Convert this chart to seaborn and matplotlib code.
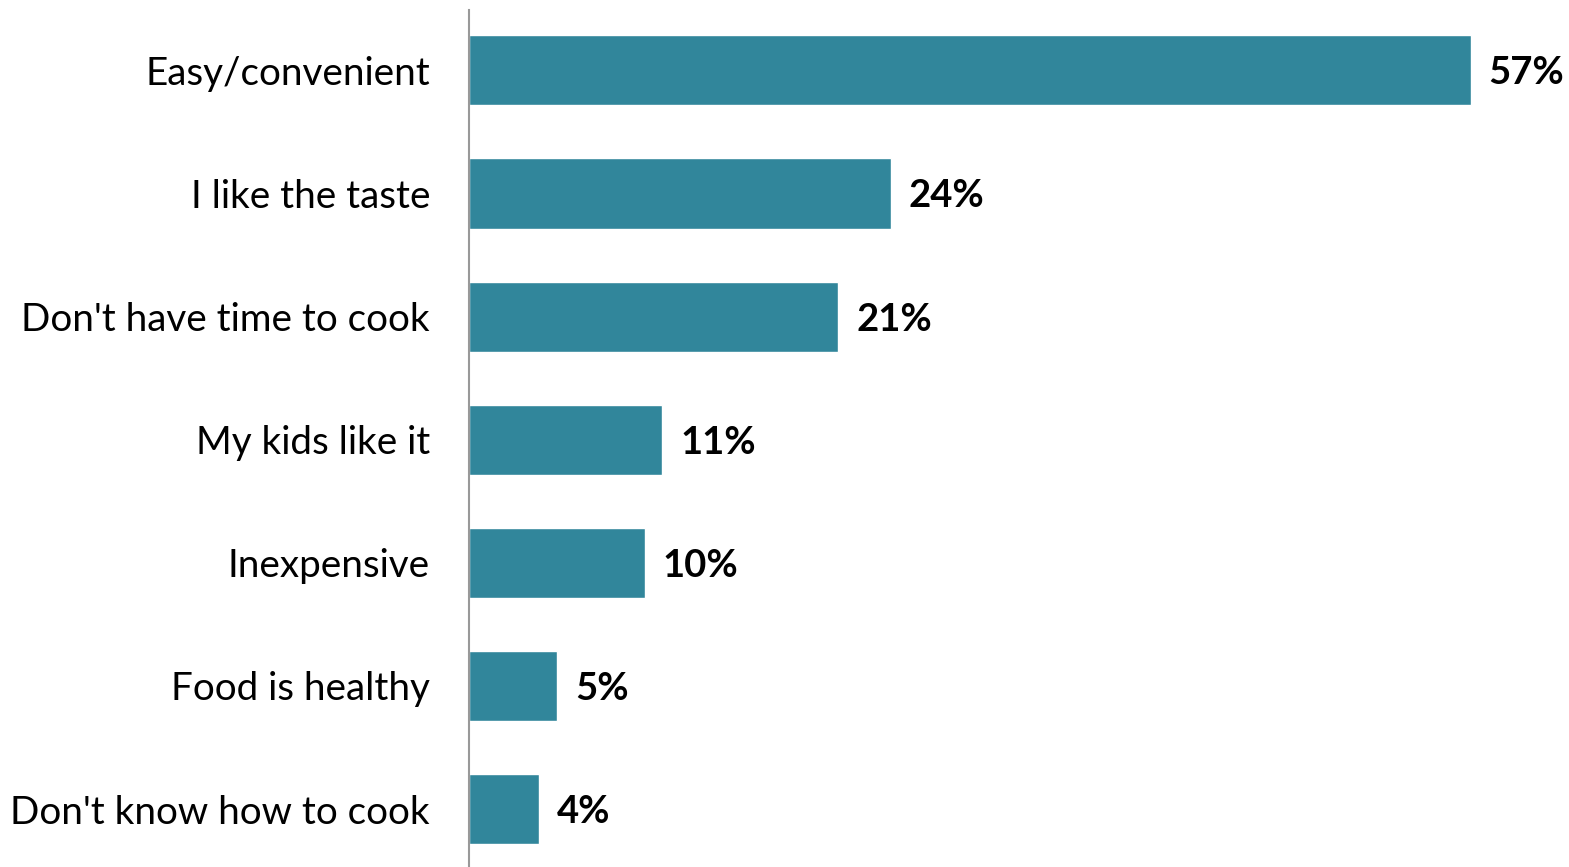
import matplotlib
matplotlib.use("Agg")
import matplotlib.pyplot as plt
import seaborn as sns
import pandas as pd

reasons = [
    "Easy/convenient",
    "I like the taste",
    "Don't have time to cook",
    "My kids like it",
    "Inexpensive",
    "Food is healthy",
    "Don't know how to cook",
]
shares = [57, 24, 21, 11, 10, 5, 4]
value_labels = ["57%", "24%", "21%", "11%", "10%", "5%", "4%"]

df = pd.DataFrame({"reason": reasons, "share": shares})

sns.set_style("white")
plt.rcParams["font.family"] = ["Lato", "DejaVu Sans"]

fig = plt.figure(figsize=(15.69, 8.67), dpi=100)
ax = fig.add_axes([469 / 1569, 0.0, 1100 / 1569, 857 / 867])

sns.barplot(data=df, x="share", y="reason", color="#31869B", saturation=1,
            width=0.57, orient="h", ax=ax)

ax.set_xlim(0, 62.6)
ax.set_ylim(6.47, -0.49)

for i, (v, lab) in enumerate(zip(shares, value_labels)):
    ax.annotate(lab, xy=(v, i), xytext=(13, 0), textcoords="offset points",
                va="center_baseline", ha="left", fontsize=27.5,
                fontweight="bold", color="#000000")

ax.set_xlabel("")
ax.set_ylabel("")
ax.set_xticks([])
ax.tick_params(axis="y", length=0, pad=28, labelsize=27.8, labelcolor="#000000")

for side in ["top", "right", "bottom"]:
    ax.spines[side].set_visible(False)
ax.spines["left"].set_color("#999999")
ax.spines["left"].set_linewidth(1.5)

fig.savefig("out.png", dpi=100)
